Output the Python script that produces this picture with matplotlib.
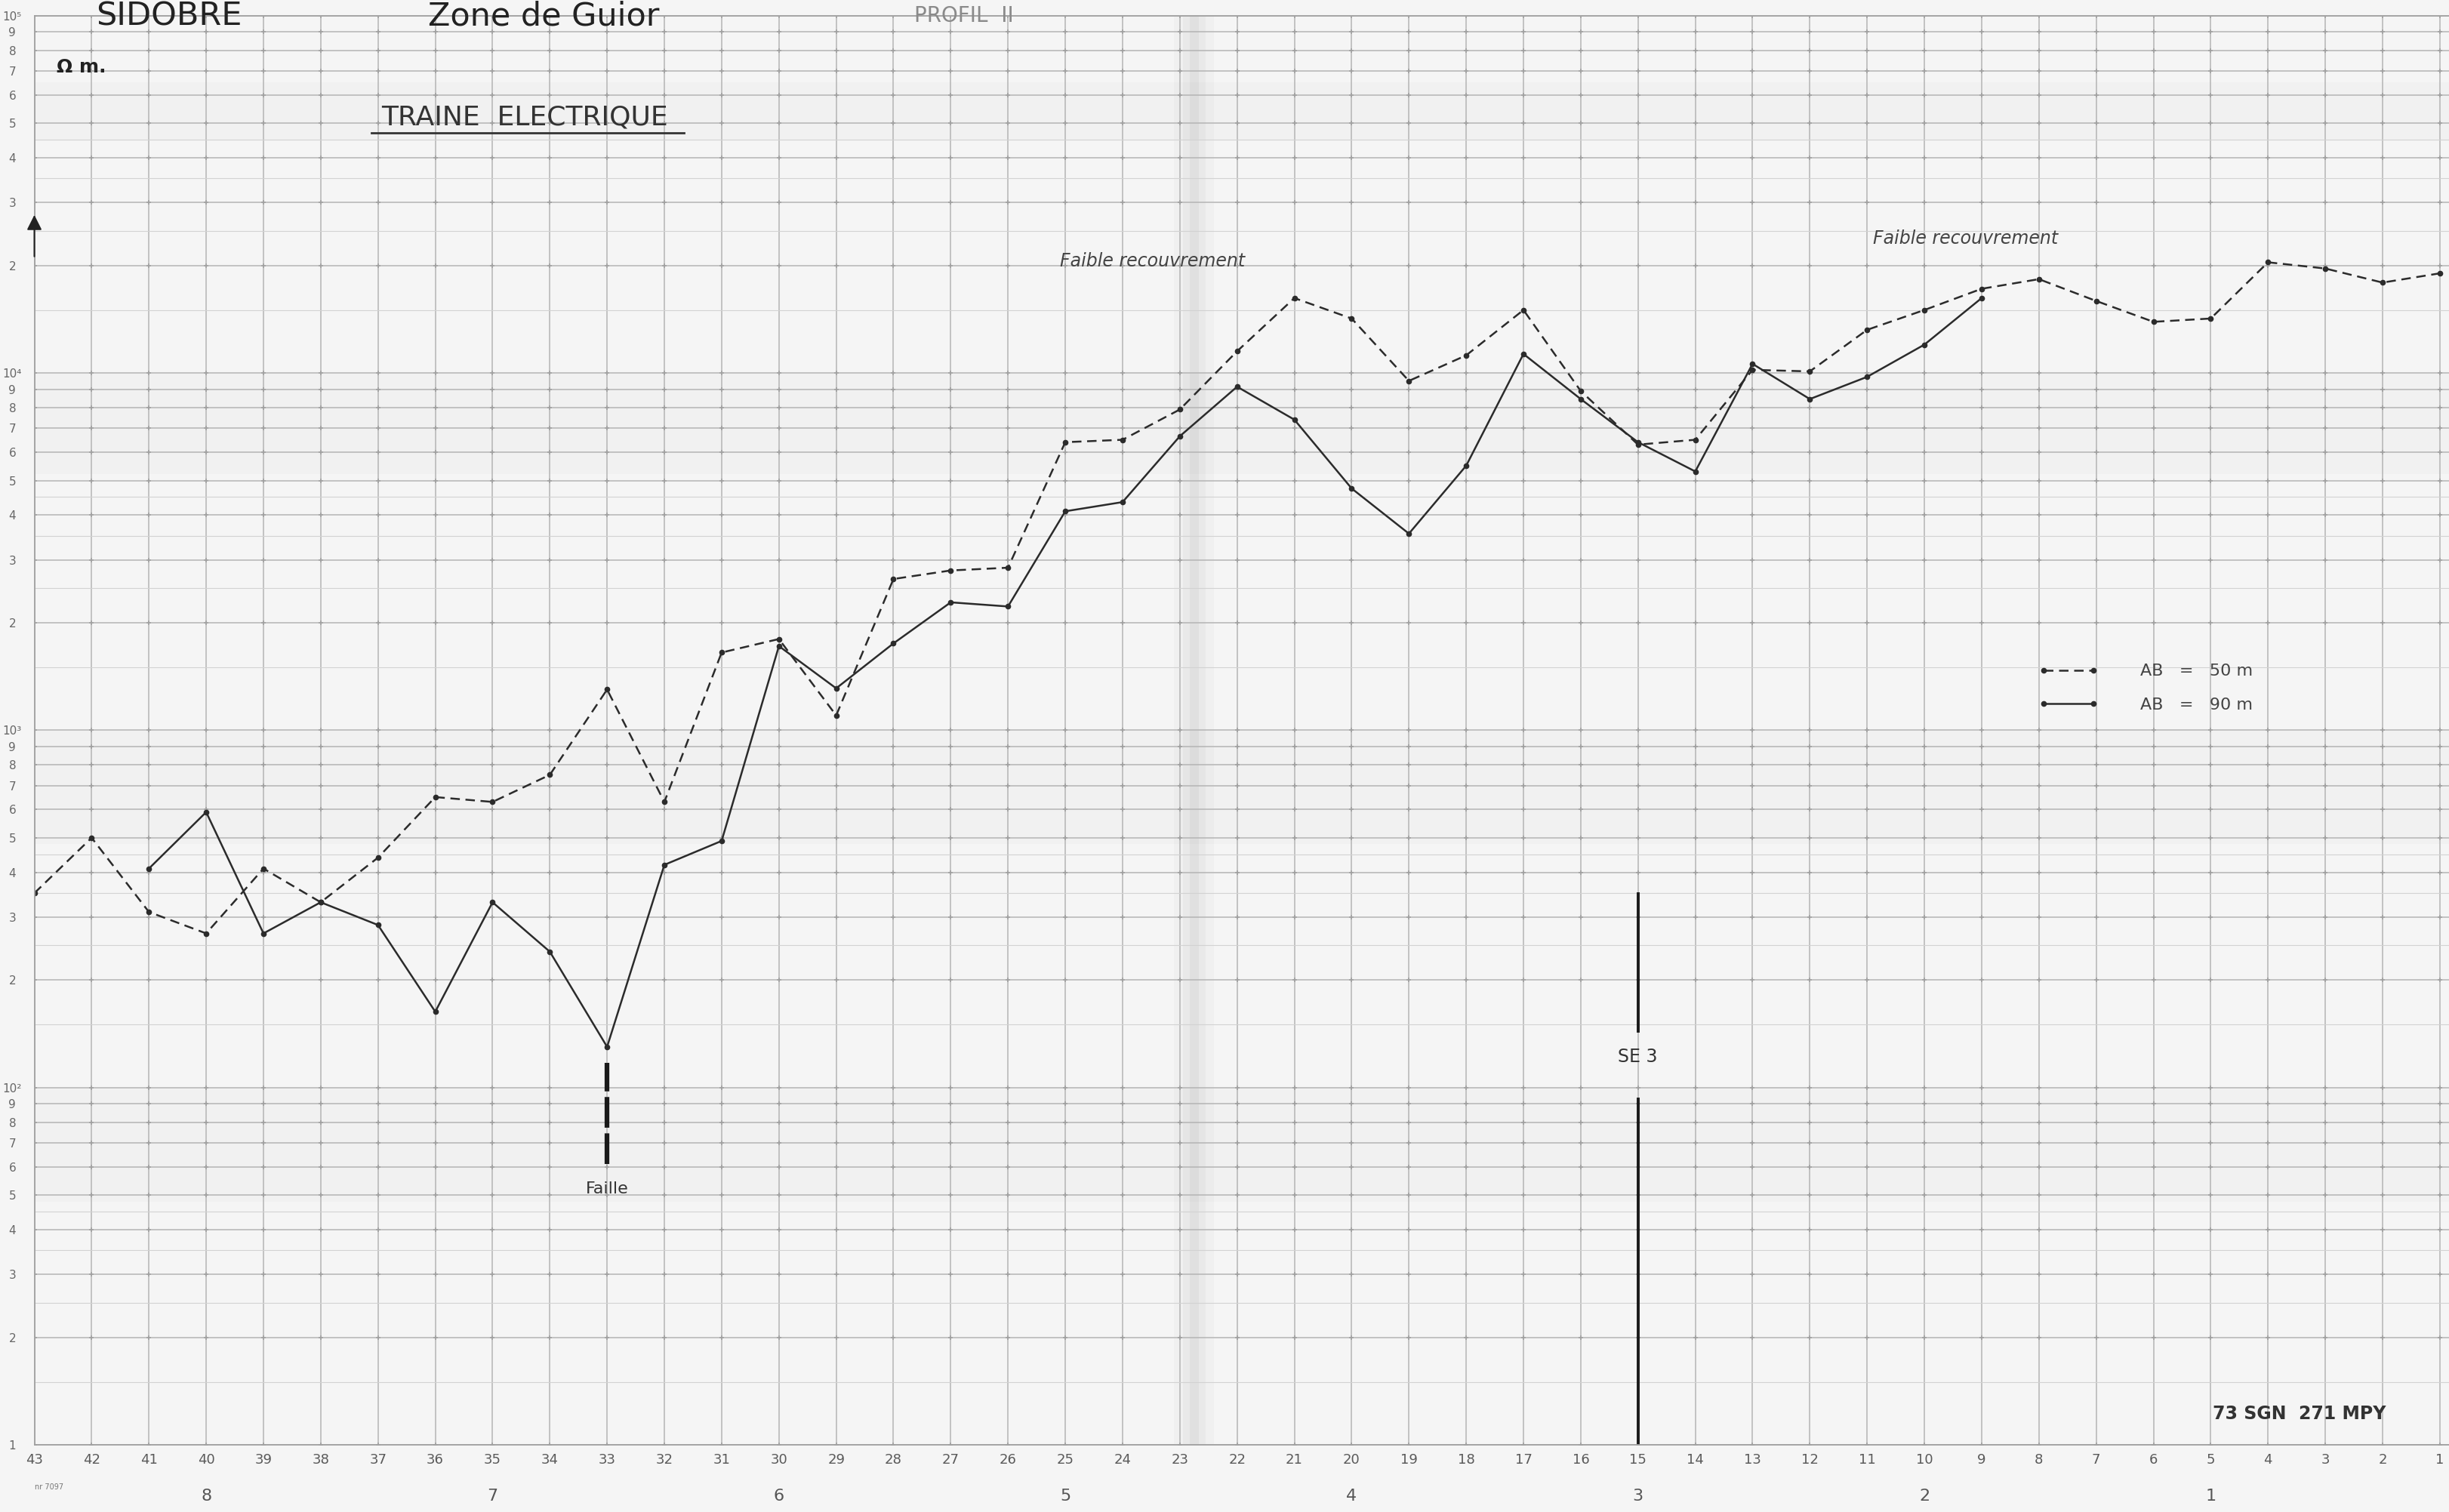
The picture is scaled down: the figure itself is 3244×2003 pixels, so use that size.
import matplotlib
matplotlib.use('Agg')
import matplotlib.pyplot as plt
import numpy as np
from matplotlib.lines import Line2D
from matplotlib.ticker import NullLocator, NullFormatter

# Apparent resistivity (ohm.m) along profile II, stations 43 -> 1
stations_50 = list(range(43, 0, -1))
rho_50 = [350, 500, 310, 270, 410, 330, 440, 650, 630, 750,
          1300, 630, 1650, 1800, 1100, 2650, 2800, 2850, 6400, 6500,
          7900, 11500, 16200, 14200, 9500, 11200, 15000, 8900, 6300, 6500,
          10200, 10100, 13200, 15000, 17200, 18300, 15900, 13900, 14200, 20400,
          19600, 17900, 19000]

stations_90 = list(range(41, 8, -1))
rho_90 = [410, 590, 270, 330, 285, 163, 330, 240, 130, 420,
          490, 1720, 1310, 1750, 2280, 2220, 4100, 4350, 6650, 9150,
          7400, 4750, 3550, 5500, 11300, 8450, 6400, 5300, 10600, 8450,
          9750, 12000, 16200]

# distance marks (hundreds of metres) under the station numbers
dist_labels = ['8', '7', '6', '5', '4', '3', '2', '1']
dist_stations = [40, 35, 30, 25, 20, 15, 10, 5]

fault_station = 33
fault_range = [61, 117]
sondage_station = 15
sondage_upper = [144, 348]
sondage_lower = [10, 93]
sondage_text_y = 122

ink = '#2b2b2b'
grid_c = '#b4b4b4'
paper = '#f5f5f5'

fig = plt.figure(figsize=(32.44, 20.03), dpi=100, facecolor=paper)
ax = fig.add_axes([22 / 1568, 43 / 968, 1 - 22 / 1568, 915 / 968])
ax.set_facecolor(paper)
ax.set_yscale('log')
ax.set_ylim(10, 1e5)
ax.set_xlim(43, 0.84)

# graph paper: one vertical line per station, log ruling horizontally
ax.set_xticks(stations_50)
ax.set_xticklabels([str(s) for s in stations_50], fontsize=13, color='#5a5a5a')
ax.xaxis.set_minor_locator(NullLocator())

sup = {2: '\u00b2', 3: '\u00b3', 4: '\u2074', 5: '\u2075'}
yt, yl = [], []
for d in range(1, 5):
    for m in range(1, 10):
        yt.append(m * 10 ** d)
        if m == 1:
            yl.append('1' if d == 1 else '10' + sup[d])
        else:
            yl.append(str(m))
yt.append(1e5)
yl.append('10' + sup[5])
ax.set_yticks(yt)
ax.set_yticklabels(yl, fontsize=11, color='#666', ha='center')
ax.set_yticks([m * 10 ** d for d in range(1, 5) for m in (1.5, 2.5, 3.5, 4.5)], minor=True)
ax.yaxis.set_minor_formatter(NullFormatter())
ax.tick_params(axis='both', which='both', length=0)
ax.tick_params(axis='y', pad=21)
ax.tick_params(axis='x', pad=8)

ax.grid(True, which='major', color=grid_c, lw=1.1)
ax.grid(True, which='minor', axis='y', color='#d2d2d2', lw=0.8)
ax.set_axisbelow(True)
for side in ['left', 'bottom', 'top']:
    ax.spines[side].set_color('#a0a0a0')
    ax.spines[side].set_linewidth(1.3)
ax.spines['right'].set_visible(False)

# small crosses where the main rulings meet
gx, gy = np.meshgrid(stations_50, yt)
ax.scatter(gx.ravel(), gy.ravel(), marker='+', s=22, lw=1.1, color='#a0a0a0',
           zorder=0.6)

# scanner shading: fold in the middle and some grey bands
for w, a in [(0.35, 0.04), (0.2, 0.06), (0.08, 0.08)]:
    ax.axvspan(22.75 - w, 22.75 + w, color='#808080', alpha=a, lw=0, zorder=0.5)
for lo, hi in [(5200, 10000), (480, 1000), (48, 100), (4.5e4, 6.5e4)]:
    ax.axhspan(lo, hi, color='#909090', alpha=0.04, lw=0, zorder=0.5)

# the two profiles
ax.plot(stations_50, rho_50, color=ink, lw=1.8, dashes=(5, 3), marker='o', ms=4.5,
        label='AB   =   50 m')
ax.plot(stations_90, rho_90, color=ink, lw=1.8, marker='o', ms=4.5,
        label='AB   =   90 m')

leg = ax.legend(loc='upper left', bbox_to_anchor=(1305 / 1568, 1 - 425 / 968),
                bbox_transform=fig.transFigure, frameon=False, numpoints=2,
                fontsize=16, handlelength=3.6, handletextpad=2.5,
                labelspacing=1.1, borderpad=0, borderaxespad=0)
for t in leg.get_texts():
    t.set_color('#444')

# fault and sounding SE 3
ax.plot([fault_station] * 2, fault_range, color='#1a1a1a', lw=4.5, dashes=(6.5, 1.2),
        solid_capstyle='butt')
ax.text(fault_station, 52, 'Faille', ha='center', va='center', fontsize=16, color='#333')
ax.plot([sondage_station] * 2, sondage_upper, color='#1a1a1a', lw=2.8)
ax.plot([sondage_station] * 2, sondage_lower, color='#1a1a1a', lw=2.8)
ax.text(sondage_station, sondage_text_y, 'SE 3', ha='center', va='center',
        fontsize=17, color='#333')

ax.text(25.1, 20500, 'Faible recouvrement', fontsize=17, style='italic',
        color='#444', va='center')
ax.text(10.9, 23800, 'Faible recouvrement', fontsize=17, style='italic',
        color='#444', va='center')

# arrow head on the resistivity axis
ax.annotate('', xy=(0, 0.862), xytext=(0, 0.83), xycoords='axes fraction',
            arrowprops=dict(arrowstyle='-|>', color='#222', lw=1.5,
                            mutation_scale=30))

# distance row under the station numbers
for lab, s in zip(dist_labels, dist_stations):
    ax.text(s, -0.036, lab, transform=ax.get_xaxis_transform(), ha='center',
            va='center', fontsize=16, color='#555')

# headings
head = ['Liberation Sans Narrow', 'DejaVu Sans']
fig.text(108 / 1568, 1 - 16 / 968, 'SIDOBRE', ha='center', va='baseline',
         fontsize=31, color='#222', family=head)
fig.text(348 / 1568, 1 - 16 / 968, 'Zone de Guior', ha='center', va='baseline',
         fontsize=31, color='#222', family=head)
fig.text(617 / 1568, 1 - 14 / 968, 'PROFIL  II', ha='center', va='baseline',
         fontsize=20, color='#8a8a8a', family=head)
fig.text(52 / 1568, 1 - 43 / 968, '\u03a9 m.', ha='center', va='center',
         fontsize=18, color='#222', weight='bold')
fig.text(336 / 1568, 1 - 80 / 968, 'TRAINE  ELECTRIQUE', ha='center', va='baseline',
         fontsize=26, color='#333')
fig.add_artist(Line2D([238 / 1568, 438 / 1568], [1 - 85 / 968] * 2, color='#333',
                      lw=2, transform=fig.transFigure))
fig.text(1472 / 1568, 1 - 905 / 968, '73 SGN  271 MPY', ha='center', va='center',
         fontsize=17, color='#333', weight='bold')
fig.text(22 / 1568, 1 - 952 / 968, 'nr 7097', ha='left', va='center',
         fontsize=7, color='#777')

fig.savefig('out.png', dpi=100, facecolor=paper)
